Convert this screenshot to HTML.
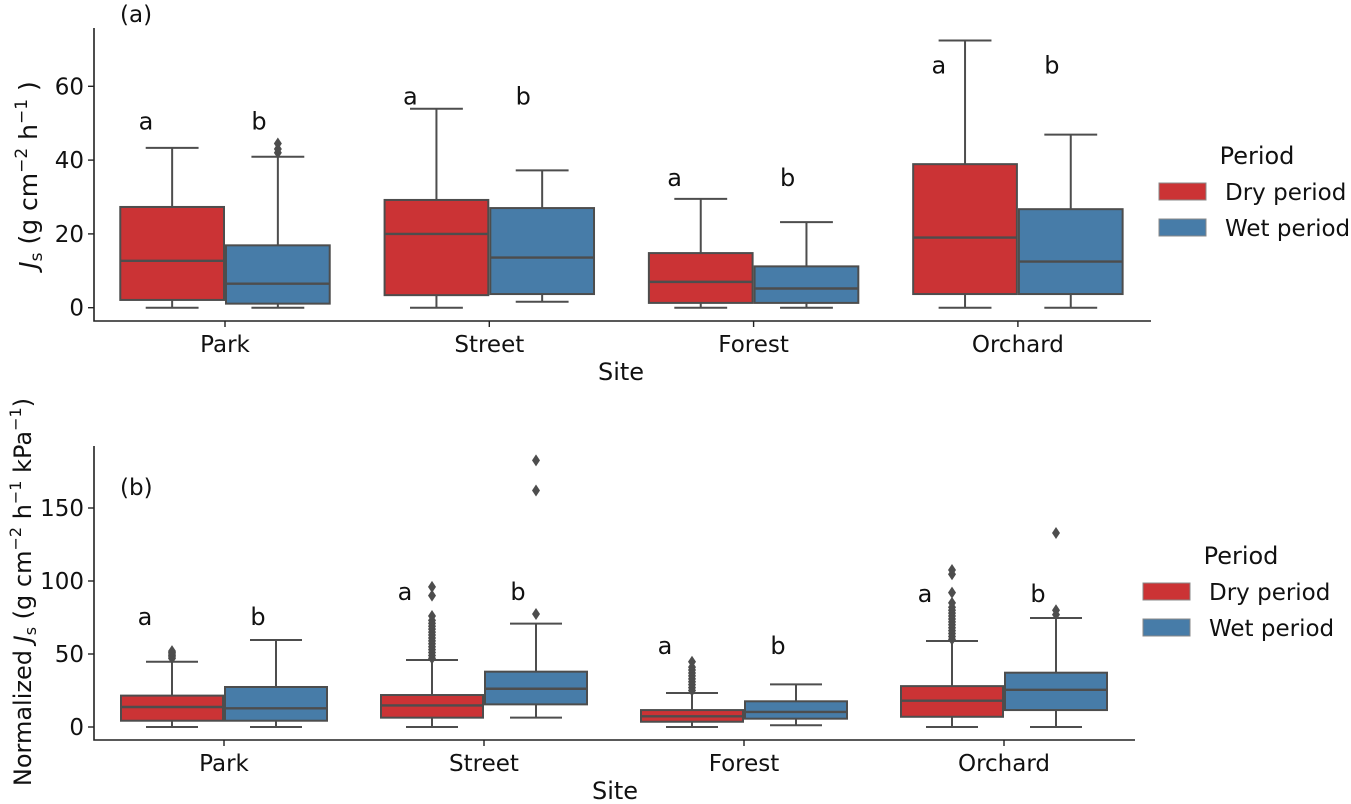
<!DOCTYPE html>
<html><head><meta charset="utf-8"><style>
html,body{margin:0;padding:0;background:#fff;}
svg{display:block;font-family:"DejaVu Sans","Liberation Sans",sans-serif;}
</style></head><body>
<svg id="chart" width="1351" height="804" viewBox="0 0 1351 804" xmlns="http://www.w3.org/2000/svg"></svg>
<script>
const categories = ["Park","Street","Forest","Orchard"];
// panel a: [low, q1, median, q3, high] for dry and wet
const aDry = [[0,2.1,12.7,27.3,43.3],[0,3.4,20,29.2,53.9],[0,1.3,7,14.8,29.5],[0,3.7,19,38.9,72.4]];
const aWet = [[0,1.1,6.5,16.9,40.9],[1.6,3.7,13.6,27,37.2],[0,1.3,5.2,11.2,23.2],[0,3.7,12.5,26.7,46.9]];
const aDryOut = [[],[],[],[]];
const aWetOut = [[42,43,44.5],[],[],[]];
const aLetterY = [50.5,57.2,35.2,65.6];
const aTicks = [0,20,40,60];
// panel b
const bDry = [[0,4.3,13.7,21.5,44.7],[0,6.4,14.8,21.9,45.9],[0,3.6,7.3,11.6,23.3],[0,7,18,28,58.9]];
const bWet = [[0,4.3,12.8,27.4,59.6],[6.4,15.5,26.2,37.9,70.8],[1.2,5.7,10.3,17.6,29.2],[0,11.6,25.5,37.2,74.7]];
const bDryOut = [[47,48,49,50,51,52],[47,49,51,53,55,57,59,61,63,65,67,69,71,73,76,90,96],[25,27,29,31,33,35,37,39,41,44.7],[60,62,64,66,68,70,72,74,76,78,80,82,85,92,104.6,107.5]];
const bWetOut = [[],[77.4,162,182.6],[],[77,80,132.9]];
const bLetterY = [75.3,92.5,55.5,91];
const bTicks = [0,50,100,150];

const NS="http://www.w3.org/2000/svg";
const svg=document.getElementById('chart');
function mk(tag,attrs,parent){const e=document.createElementNS(NS,tag);for(const k in attrs)e.setAttribute(k,attrs[k]);(parent||svg).appendChild(e);return e;}
const RED="#cb3335",BLUE="#477ca8",LINE="#4d4d4d";
const FS=23;

function panel(cfg){
  const g=mk('g',{});
  
  
  const yS=v=>cfg.y0-(v-0)*cfg.ppu;
  const xC=i=>cfg.x0+i*cfg.step;
  const bw=cfg.step*0.4;
  const sp=mk('path',{d:`M${cfg.left} ${cfg.top}V${cfg.bottom}H${cfg.right}`,fill:'none',stroke:'#222','stroke-width':1.6},g);
  
  
  cfg.ticks.forEach(t=>{
    mk('line',{x1:cfg.left-6,x2:cfg.left,y1:yS(t),y2:yS(t),stroke:'#222','stroke-width':1.4},g);
    const tx=mk('text',{x:cfg.left-10,y:yS(t)+8,'text-anchor':'end','font-size':FS,fill:'#111'},g);
    tx.textContent=t;
    
    
  });
  categories.forEach((c,i)=>{
    mk('line',{x1:xC(i),x2:xC(i),y1:cfg.bottom,y2:cfg.bottom+6,stroke:'#222','stroke-width':1.4},g);
    const tx=mk('text',{x:xC(i),y:cfg.bottom+31,'text-anchor':'middle','font-size':FS,fill:'#111'},g);
    tx.textContent=c;
    
    
    [[cfg.dry,cfg.dryOut,RED,-1,'dry'],[cfg.wet,cfg.wetOut,BLUE,0,'wet']].forEach(([d,o,col,off,nm])=>{
      const s=d[i];const x=xC(i)+off*bw;const cx=x+bw/2;
      const bg=mk('g',{},g);
      
      
      mk('line',{x1:cx,x2:cx,y1:yS(s[0]),y2:yS(s[1]),stroke:LINE,'stroke-width':2},bg);
      mk('line',{x1:cx,x2:cx,y1:yS(s[3]),y2:yS(s[4]),stroke:LINE,'stroke-width':2},bg);
      mk('line',{x1:cx-bw/4,x2:cx+bw/4,y1:yS(s[0]),y2:yS(s[0]),stroke:LINE,'stroke-width':2},bg);
      mk('line',{x1:cx-bw/4,x2:cx+bw/4,y1:yS(s[4]),y2:yS(s[4]),stroke:LINE,'stroke-width':2},bg);
      mk('rect',{x:x+1,y:yS(s[3]),width:bw-2,height:yS(s[1])-yS(s[3]),fill:col,stroke:LINE,'stroke-width':2},bg);
      mk('line',{x1:x+1,x2:x+bw-1,y1:yS(s[2]),y2:yS(s[2]),stroke:LINE,'stroke-width':2.4},bg);
      o[i].forEach(v=>{const y=yS(v);
        const p=mk('path',{d:`M${cx} ${y-6}L${cx+4} ${y}L${cx} ${y+6}L${cx-4} ${y}Z`,fill:LINE},bg);
        
        
      });
    });
    const la=mk('text',{x:xC(i)-79,y:cfg.yl(i)+8,'text-anchor':'middle','font-size':24,fill:'#111'},g);la.textContent='a';
    
    
    const lb=mk('text',{x:xC(i)+34,y:cfg.yl(i)+8,'text-anchor':'middle','font-size':24,fill:'#111'},g);lb.textContent='b';
    
    
  });
  const xl=mk('text',{x:cfg.siteX,y:cfg.siteY,'text-anchor':'middle','font-size':24,fill:'#111'},g);xl.textContent='Site';
  
  
  const lg=mk('g',{},g);
  
  
  const pt=mk('text',{x:cfg.lx+98,y:cfg.ly,'font-size':24,'text-anchor':'middle',fill:'#111'},lg);pt.textContent='Period';
  
  
  [['Dry period',RED],['Wet period',BLUE]].forEach(([t,col],k)=>{
    const ry=cfg.ly+28+k*36;
    const r=mk('rect',{x:cfg.lx,y:ry-9,width:47,height:17,fill:col,stroke:'#888','stroke-width':1},lg);
    
    
    const tt=mk('text',{x:cfg.lx+66,y:ry+8,'font-size':FS,fill:'#111'},lg);tt.textContent=t;
    
    
  });
  return {yS,xC};
}
panel({name:'panel-a',left:94,right:1151,top:28,bottom:321,y0:307.7,ppu:3.69,x0:225,step:264.3,ticks:aTicks,
  dry:aDry,wet:aWet,dryOut:aDryOut,wetOut:aWetOut,yl:i=>307.7-aLetterY[i]*3.69,siteX:621,siteY:380,lx:1159,ly:164});
panel({name:'panel-b',left:94,right:1135,top:446,bottom:740,y0:727,ppu:1.46,x0:224,step:260,ticks:bTicks,
  dry:bDry,wet:bWet,dryOut:bDryOut,wetOut:bWetOut,yl:i=>727-bLetterY[i]*1.46,siteX:615,siteY:799,lx:1143,ly:564});
function txt(s,attrs,name){const t=mk('text',attrs);t.innerHTML=s;return t;}
txt('(a)',{x:120,y:22,'font-size':23,fill:'#111'},'panel-a-label');
txt('(b)',{x:120,y:495,'font-size':23,fill:'#111'},'panel-b-label');
txt('<tspan font-style="italic">J</tspan><tspan font-size="17" dy="5">s</tspan><tspan dy="-5"> (g cm</tspan><tspan font-size="17" dy="-10">−2</tspan><tspan dy="10"> h</tspan><tspan font-size="17" dy="-10">−1</tspan><tspan dy="10"> )</tspan>',
  {transform:'translate(37,175) rotate(-90)','text-anchor':'middle','font-size':25,fill:'#111'},'y-axis-title-a');
txt('Normalized <tspan font-style="italic">J</tspan><tspan font-size="16" dy="5">s</tspan><tspan dy="-5"> (g cm</tspan><tspan font-size="16" dy="-10">−2</tspan><tspan dy="10"> h</tspan><tspan font-size="16" dy="-10">−1</tspan><tspan dy="10"> kPa</tspan><tspan font-size="16" dy="-10">−1</tspan><tspan dy="10">)</tspan>',
  {transform:'translate(31,592) rotate(-90)','text-anchor':'middle','font-size':24,fill:'#111'},'y-axis-title-b');
</script>
</body></html>
